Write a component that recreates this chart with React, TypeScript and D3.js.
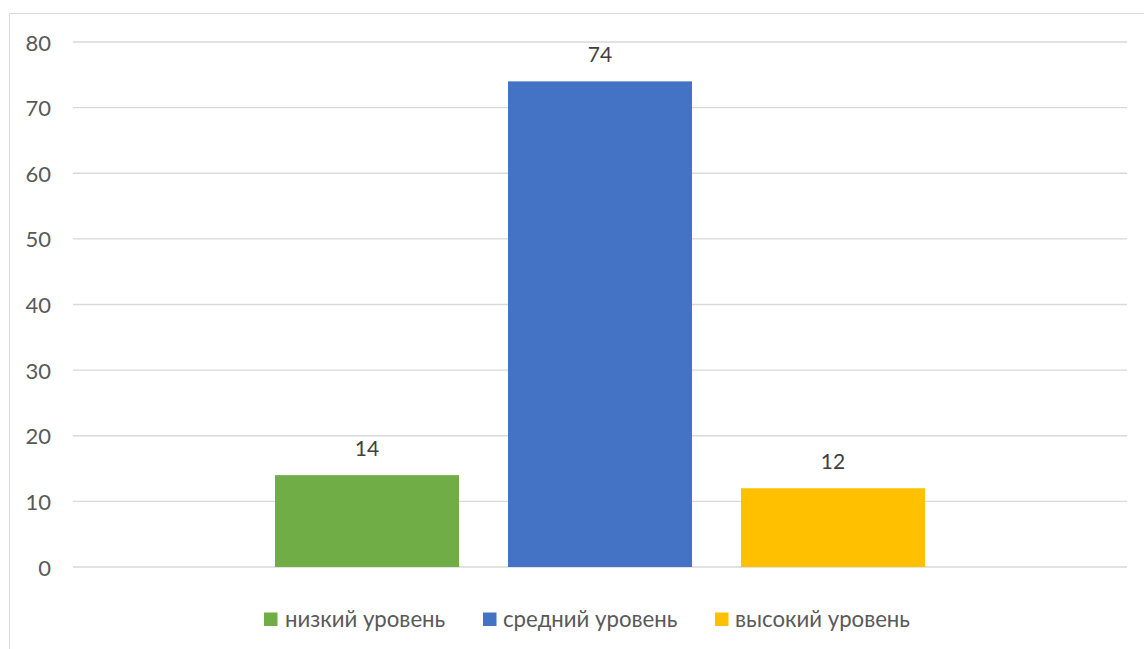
import React from "react";
import * as d3 from "d3";

const categories = ["1"];
const seriesNames = ["низкий уровень", "средний уровень", "высокий уровень"];
const seriesValues = [14, 74, 12];
const seriesColors = ["#70AD47", "#4472C4", "#FFC000"];
const yTicks = [0, 10, 20, 30, 40, 50, 60, 70, 80];

const W = 1144;
const H = 649;
const plotLeft = 73;
const plotRight = 1127;
const plotTop = 42;
const plotBottom = 567;
const FONT = "Lato, 'Open Sans', sans-serif";

export default function App() {
  const y = d3.scaleLinear().domain([0, 80]).range([plotBottom, plotTop]);
  const x0 = d3.scaleBand<string>().domain(categories).range([plotLeft, plotRight]).paddingInner(0).paddingOuter(0);
  const groupPad = 202;
  const x1 = d3
    .scaleBand<string>()
    .domain(seriesNames)
    .range([groupPad, x0.bandwidth() - groupPad])
    .paddingInner(49 / 233)
    .paddingOuter(0);

  const legendItems = [
    { sq: 264, tx: 285 },
    { sq: 483, tx: 503 },
    { sq: 715, tx: 735 },
  ];

  return (
    <svg
      width={W}
      height={H}
      style={{ position: "absolute", left: 0, top: 0, background: "#fff" }}
      fontFamily={FONT}
    >
      <rect x={9.5} y={13.5} width={W} height={H} fill="#fff" stroke="#d9d9d9" strokeWidth={1} />
      {yTicks.map((t) => (
        <g key={t}>
          <line x1={plotLeft} x2={plotRight} y1={y(t)} y2={y(t)} stroke="#d9d9d9" strokeWidth={1.3} />
          <text x={51} y={y(t) + 8.5} textAnchor="end" fontSize={22} fill="#595959">
            {t}
          </text>
        </g>
      ))}
      {categories.map((c) => (
        <g key={c} transform={`translate(${x0(c)},0)`}>
          {seriesNames.map((s, i) => (
            <g key={s}>
              <rect
                x={x1(s)}
                y={y(seriesValues[i])}
                width={x1.bandwidth()}
                height={y(0) - y(seriesValues[i])}
                fill={seriesColors[i]}
              />
              <text
                x={(x1(s) as number) + x1.bandwidth() / 2}
                y={y(seriesValues[i]) - 19}
                textAnchor="middle"
                fontSize={21}
                fill="#404040"
              >
                {seriesValues[i]}
              </text>
            </g>
          ))}
        </g>
      ))}
      {seriesNames.map((s, i) => (
        <g key={s}>
          <rect x={legendItems[i].sq} y={612.5} width={13.5} height={13.5} fill={seriesColors[i]} />
          <text x={legendItems[i].tx} y={627} fontSize={22.2} fill="#595959">
            {s}
          </text>
        </g>
      ))}
    </svg>
  );
}
